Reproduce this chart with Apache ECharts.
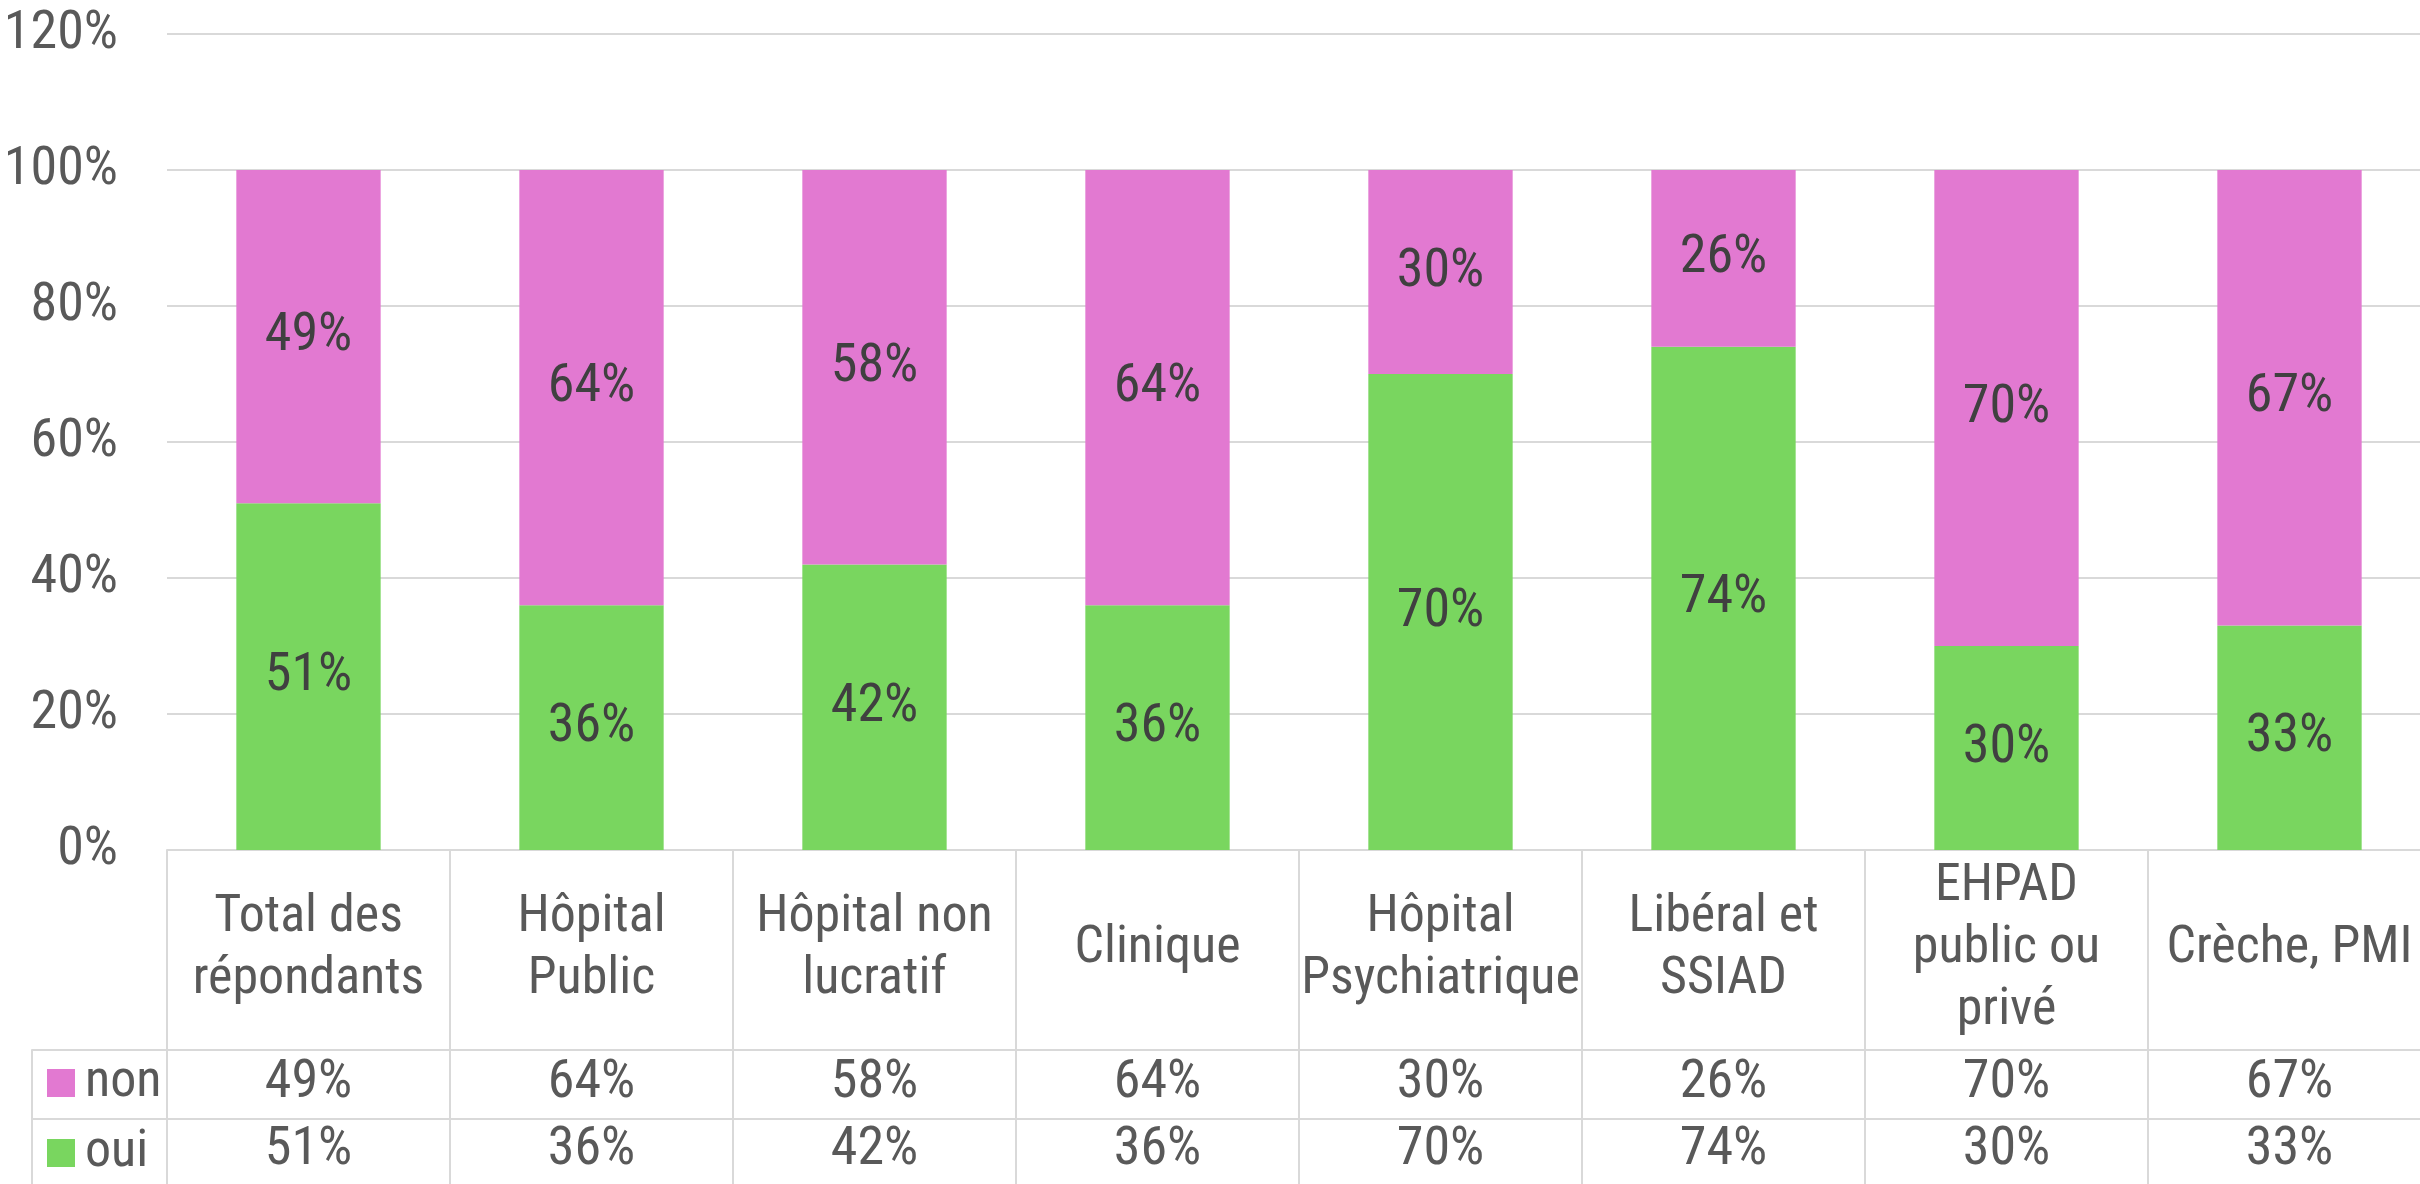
<!DOCTYPE html>
<html>
<head>
<meta charset="utf-8">
<script src="https://cdn.jsdelivr.net/npm/echarts@6/dist/echarts.min.js"></script>
<style>
  html, body { margin: 0; padding: 0; background: #fff; }
  #chart { width: 2420px; height: 1184px; }
</style>
</head>
<body>
<div id="chart"></div>
<script>
const categories = [
  "Total des\nrépondants",
  "Hôpital\nPublic",
  "Hôpital non\nlucratif",
  "Clinique",
  "Hôpital\nPsychiatrique",
  "Libéral et\nSSIAD",
  "EHPAD\npublic ou\nprivé",
  "Crèche, PMI",
];
const ouiValues = [51, 36, 42, 36, 70, 74, 30, 33];
const nonValues = [49, 64, 58, 64, 30, 26, 70, 67];
const yTicks = [0, 20, 40, 60, 80, 100, 120];

const font = "'Roboto Condensed', 'Liberation Sans', Arial, sans-serif";
const pink = "#E279D1";
const green = "#79D65F";
const lineColor = "#D9D9D9";
const textColor = "#595959";
const barTextColor = "#404040";

// table rows: 3 slots for the category label row, then non, then oui
const tableRows = ["", " ", "  ", "non", "oui"];

const chart = echarts.init(document.getElementById("chart"));

chart.setOption({
  animation: false,
  textStyle: { fontFamily: font },
  grid: [
    { left: 167, right: -11, top: 34, bottom: 334, outerBoundsMode: "none" },
    { left: 167, right: -11, top: 850, bottom: 0, outerBoundsMode: "none" },
    { left: 32, right: -11, top: 1050, bottom: -4, outerBoundsMode: "none" },
  ],
  legend: {
    data: ["non", "oui"],
    orient: "vertical",
    left: 47,
    top: 1055,
    padding: 0,
    itemWidth: 28,
    itemHeight: 28,
    itemGap: 14,
    icon: "rect",
    textStyle: {
      fontFamily: font,
      fontSize: 52,
      color: textColor,
      lineHeight: 56,
      padding: [0, 0, 0, 5],
    },
  },
  xAxis: [
    {
      type: "category",
      gridIndex: 0,
      data: categories,
      axisLine: { lineStyle: { color: lineColor, width: 2 } },
      axisTick: { show: false },
      axisLabel: {
        interval: 0,
        fontSize: 52,
        lineHeight: 62,
        color: textColor,
        verticalAlign: "middle",
        margin: 99,
      },
    },
    {
      type: "category",
      gridIndex: 1,
      data: categories,
      axisLine: { show: false },
      axisTick: { show: false },
      axisLabel: { show: false },
      splitLine: { show: true, interval: 0, lineStyle: { color: lineColor, width: 2 } },
    },
    {
      type: "value",
      gridIndex: 2,
      show: false,
    },
  ],
  yAxis: [
    {
      type: "value",
      gridIndex: 0,
      min: 0,
      max: 120,
      interval: 20,
      axisLine: { show: false },
      axisTick: { show: false },
      axisLabel: {
        fontSize: 54,
        color: textColor,
        margin: 49,
        formatter: (v) => (yTicks.includes(v) ? v + "%" : ""),
      },
      splitLine: { lineStyle: { color: lineColor, width: 2 } },
    },
    {
      type: "category",
      gridIndex: 1,
      data: tableRows,
      inverse: true,
      show: false,
    },
    {
      type: "category",
      gridIndex: 2,
      data: ["non", "oui"],
      inverse: true,
      axisLine: { show: true, lineStyle: { color: lineColor, width: 2 } },
      axisTick: { show: false },
      axisLabel: { show: false },
      splitLine: { show: true, lineStyle: { color: lineColor, width: 2 } },
    },
  ],
  series: [
    {
      name: "oui",
      type: "bar",
      stack: "total",
      barWidth: "51%",
      data: ouiValues,
      itemStyle: { color: green },
      label: {
        show: true,
        position: "inside",
        fontSize: 54,
        color: barTextColor,
        formatter: (p) => p.value + "%",
      },
    },
    {
      name: "non",
      type: "bar",
      stack: "total",
      barWidth: "51%",
      data: nonValues,
      itemStyle: { color: pink },
      label: {
        show: true,
        position: "inside",
        fontSize: 54,
        color: barTextColor,
        formatter: (p) => p.value + "%",
      },
    },
    {
      name: "table non",
      type: "scatter",
      xAxisIndex: 1,
      yAxisIndex: 1,
      symbolSize: 0,
      silent: true,
      itemStyle: { opacity: 1 },
      data: nonValues.map((v, i) => [i, "non", v]),
      label: {
        show: true,
        position: "inside",
        fontSize: 54,
        color: textColor,
        formatter: (p) => p.value[2] + "%",
      },
    },
    {
      name: "table oui",
      type: "scatter",
      xAxisIndex: 1,
      yAxisIndex: 1,
      symbolSize: 0,
      silent: true,
      itemStyle: { opacity: 1 },
      data: ouiValues.map((v, i) => [i, "oui", v]),
      label: {
        show: true,
        position: "inside",
        fontSize: 54,
        color: textColor,
        formatter: (p) => p.value[2] + "%",
      },
    },
  ],
});
</script>
</body>
</html>
